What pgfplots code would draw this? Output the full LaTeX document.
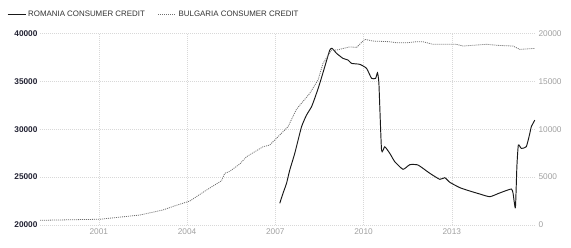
\documentclass[border=0pt]{standalone}
\usepackage{pgfplots}
\pgfplotsset{compat=1.18}
\usepackage{fontspec}
\setmainfont{Liberation Sans}
\definecolor{gridc}{HTML}{D8D8D8}
\definecolor{ticklight}{HTML}{A0A0A0}
\definecolor{tickdark}{HTML}{222233}
\definecolor{bulg}{HTML}{707070}
\definecolor{legtext}{HTML}{333333}
\begin{document}
\begin{tikzpicture}
\useasboundingbox (-40pt,-23pt) rectangle (531pt,225pt);
\pgfplotsset{
  common/.style={
    scale only axis, width=496pt, height=191.5pt,
    xmin=1999, xmax=2015.86,
    axis line style={draw=none},
    tick style={draw=none},
    /pgf/number format/assume math mode=true,
    /pgf/number format/1000 sep={},
  }
}
\begin{axis}[common,
  ymin=20000, ymax=40000,
  ytick={20000,25000,30000,35000,40000},
  xtick={2001,2004,2007,2010,2013},
  ytick pos=left, xtick pos=bottom,
  grid=major, grid style={gridc, dash pattern=on 1pt off 1pt},
  yticklabel style={font=\fontsize{8.3}{9}\selectfont\bfseries, text=tickdark, xshift=1pt},
  xticklabel style={font=\fontsize{8.3}{9}\selectfont, text=ticklight},
  scaled y ticks=false,
  legend style={at={(-0.0665,1.10)}, anchor=west, draw=none, fill=none,
    inner sep=0pt, font=\fontsize{7.9}{9}\selectfont, text=legtext,
    /tikz/every even column/.append style={column sep=11pt},
    nodes={inner xsep=2pt}},
  legend columns=2,
  legend image code/.code={\draw[#1] (0pt,0pt) -- (18pt,0pt);},
]
\addplot[black!90, line width=0.95pt, smooth, tension=0.3] coordinates {
(2007.15,22265) (2007.26,23310) (2007.38,24350) (2007.49,25740) (2007.66,27485)
(2007.89,30260) (2008.06,31480) (2008.23,32350) (2008.37,33500) (2008.51,34790)
(2008.68,36530) (2008.85,38270) (2008.93,38450) (2009.08,37930) (2009.30,37400)
(2009.47,37230) (2009.59,36880) (2009.87,36780) (2010.10,36360) (2010.27,35320)
(2010.41,35320) (2010.47,35900) (2010.52,34790) (2010.61,27830) (2010.72,28175)
(2010.89,27485) (2011.06,26610) (2011.34,25815) (2011.57,26300) (2011.85,26264)
(2012.25,25400) (2012.59,24770) (2012.76,24940) (2012.93,24460) (2013.27,23900)
(2013.61,23550) (2013.95,23236) (2014.29,22955) (2014.63,23350) (2015.02,23760)
(2015.08,23310) (2015.16,21800) (2015.21,26090) (2015.26,28350) (2015.36,28000)
(2015.53,28175) (2015.65,29570) (2015.70,30260) (2015.82,30960)
};
\addlegendentry{ROMANIA CONSUMER CREDIT}
\addlegendimage{bulg, line width=0.8pt, dash pattern=on 1pt off 1pt}
\addlegendentry{BULGARIA CONSUMER CREDIT}
\end{axis}
\begin{axis}[common,
  ymin=0, ymax=20000,
  ytick={0,5000,10000,15000,20000},
  xtick=\empty,
  ytick pos=right, yticklabel pos=right,
  yticklabel style={font=\fontsize{8.3}{9}\selectfont, text=ticklight, xshift=-1pt},
  scaled y ticks=false,
]
\addplot[bulg, line width=0.8pt, dash pattern=on 1pt off 1pt] coordinates {
(1999.00,490) (2001.03,600) (2002.39,1040) (2003.18,1570) (2003.58,2000)
(2004.09,2500) (2004.66,3650) (2005.17,4620) (2005.28,5400) (2005.45,5600)
(2005.79,6370) (2006.02,7130) (2006.58,8170) (2006.81,8350) (2007.15,9400)
(2007.43,10260) (2007.72,12100) (2008.17,13750) (2008.45,15140) (2008.62,16880)
(2008.91,18270) (2009.08,18270) (2009.53,18600) (2009.76,18550) (2010.04,19390)
(2010.32,19210) (2010.89,19140) (2011.12,19030) (2011.46,19030) (2011.80,19140)
(2012.02,19140) (2012.36,18870) (2013.15,18870) (2013.38,18690) (2014.17,18870)
(2014.62,18750) (2015.08,18690) (2015.31,18340) (2015.84,18450)
};
\end{axis}
\end{tikzpicture}
\end{document}
